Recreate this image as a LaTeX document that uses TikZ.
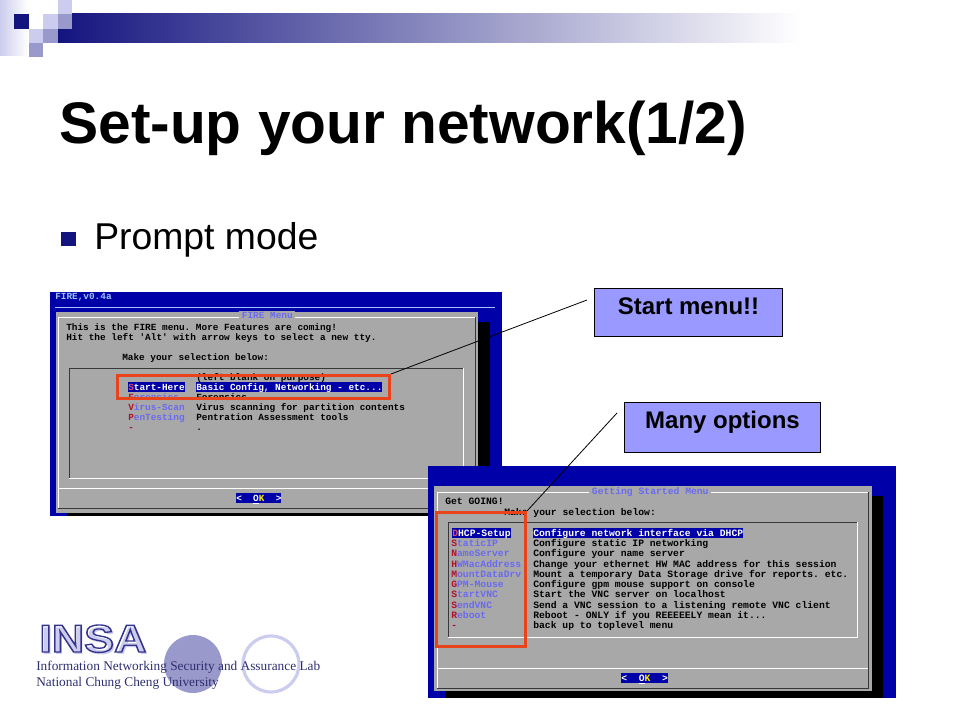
\documentclass[tikz,border=0pt]{standalone}
\usepackage{fontspec}
\setmainfont{Liberation Sans}
\setmonofont{Liberation Mono}
\newfontfamily\footfont{Liberation Serif}
\usetikzlibrary{positioning}

\definecolor{barnavy}{HTML}{14147F}
\definecolor{barmid}{HTML}{A8A8C0}
\definecolor{squaredark}{HTML}{9999CC}
\definecolor{squarelight}{HTML}{CCCCEE}
\definecolor{ttyblue}{HTML}{0000A8}
\definecolor{ttygray}{HTML}{A8A8A8}
\definecolor{ttydark}{HTML}{383838}
\definecolor{ttylabel}{HTML}{6A6AF0}
\definecolor{ttyhot}{HTML}{B01028}
\definecolor{ttysel}{HTML}{E04878}
\definecolor{ttytop}{HTML}{9CC4FF}
\definecolor{redbox}{HTML}{E8431A}
\definecolor{calloutfill}{HTML}{9999FF}
\definecolor{footnavy}{HTML}{2E2E70}

\newcommand{\hotkey}[2]{{\color{ttyhot}#1}#2}
\newcommand{\selkey}[2]{{\color{ttysel}#1}#2}
\newcommand{\outlined}[1]{\special{pdf:code 1 Tr 1 w 0.2 0.2 0.55 RG}#1\special{pdf:code 0 Tr 0.4 w 0 0 0 RG}}

\begin{document}
\begin{tikzpicture}[x=0.75pt,y=-0.75pt,
  ttyfirst/.style={anchor=west,inner sep=0pt,text height=6pt,text depth=1.5pt,
    font=\fontsize{7.05}{8}\selectfont\ttfamily\bfseries,text=black},
  ttysecond/.style={ttyfirst,font=\fontsize{7.29}{8}\selectfont\ttfamily\bfseries},
  menulabel/.style={text=ttylabel},
  menusel/.style={fill=ttyblue,text=white},
  ttytitle/.style={fill=ttygray,inner xsep=2pt,text=ttylabel},
  okbutton/.style={fill=ttyblue,text=white,inner xsep=0pt},
  redframe/.style={draw=redbox,line width=2.25pt,inner sep=0pt},
  callout/.style={draw=black,line width=0.75pt,fill=calloutfill,inner sep=0pt,
    font=\fontsize{18}{20}\selectfont\bfseries},
  leader/.style={draw=black,line width=0.6pt},
  footline/.style={anchor=west,inner sep=0pt,text=footnavy,font=\fontsize{10}{12}\selectfont\footfont}]
\useasboundingbox (0,0) rectangle (960,720);

% banner
\shade[left color=barnavy,middle color=barmid,right color=white] (58,14) rectangle (800,43);
\shade[left color=squarelight,right color=white] (0,0) rectangle (28,56);
\fill[white] (14,14) rectangle (72,29);
\fill[barnavy] (14,14) rectangle (29,29);
\fill[squarelight] (43,14) rectangle (58,29);
\fill[squarelight] (58,0) rectangle (72,14);
\fill[squaredark] (58,14) rectangle (72,29);
\fill[squarelight] (29,29) rectangle (43,43);
\fill[squaredark] (43,29) rectangle (58,43);
\fill[squaredark] (29,43) rectangle (43,57);

\node (title) [anchor=base west,inner sep=0pt,font=\fontsize{44}{50}\selectfont\bfseries] at (59,144) {Set-up your network(1/2)};
\fill[barnavy] (61,232) rectangle (76,246);
\node (prompt) [anchor=base west,inner sep=0pt,font=\fontsize{28}{32}\selectfont] at (94,250) {Prompt mode};

% footer
\fill[squaredark] (193,664) circle (29);
\draw[squarelight,line width=2.4pt] (271,664) circle (28);
\node (insashadow) [anchor=base west,inner sep=0pt,xscale=1.16,transform shape,text=squarelight,font=\fontsize{29}{32}\selectfont\bfseries] at (41,654) {INSA};
\node (insa) [anchor=base west,inner sep=0pt,xscale=1.16,transform shape,font=\fontsize{29}{32}\selectfont\bfseries] at (39,652) {\outlined{INSA}};
\node (lab) [footline] at (36,667) {Information Networking Security and Assurance Lab};
\node (univ) [footline] at (36,683) {National Chung Cheng University};

% first screen
\fill[ttyblue] (50,292) rectangle (502,516);
\draw[ttytop,line width=0.6pt] (55,307) -- (495,307);
\fill[black] (67,322) rectangle (490,516);
\fill[ttygray] (56,312) rectangle (478,513);
\draw[white,line width=0.75pt] (58,508) -- (58,317) -- (475,317);
\draw[ttydark,line width=0.75pt] (475,317) -- (475,508) -- (58,508);
\draw[white,line width=0.75pt] (58,488) -- (475,488);
\draw[ttydark,line width=0.75pt] (69,478) -- (69,368) -- (463,368);
\draw[white,line width=0.75pt] (463,368) -- (463,478) -- (69,478);
\node (firetop) [ttyfirst,text=ttytop] at (55,297) {FIRE,v0.4a};
\node (firetitle) [ttyfirst,ttytitle] at (239,316) {FIRE Menu};
\node (intro) [ttyfirst] at (66,327) {This is the FIRE menu. More Features are coming!};
\node (hint) [ttyfirst] at (66,337) {Hit the left 'Alt' with arrow keys to select a new tty.};
\node (choose) [ttyfirst] at (122,357) {Make your selection below:};
\node (blankdesc) [ttyfirst] at (196,377) {(left blank on purpose)};
\node (startlab) [ttyfirst,menusel] at (128,387) {\selkey{S}{tart-Here}};
\node (startdesc) [ttyfirst,menusel] at (196,387) {Basic Config, Networking - etc...};
\node (forenlab) [ttyfirst,menulabel] at (128,397) {\hotkey{F}{orensics}};
\node (forendesc) [ttyfirst] at (196,397) {Forensics};
\node (viruslab) [ttyfirst,menulabel] at (128,407) {\hotkey{V}{irus-Scan}};
\node (virusdesc) [ttyfirst] at (196,407) {Virus scanning for partition contents};
\node (penlab) [ttyfirst,menulabel] at (128,417) {\hotkey{P}{enTesting}};
\node (pendesc) [ttyfirst] at (196,417) {Pentration Assessment tools};
\node (dashlab) [ttyfirst,menulabel] at (128,427) {\hotkey{-}{}};
\node (dashdesc) [ttyfirst] at (196,427) {.};
\node (okfirst) [ttyfirst,okbutton] at (236,498) {<~~\underline{O}{\color{yellow}K}~~>};
\node (startframe) [redframe,minimum width=204pt,minimum height=17.25pt] at (253.5,387) {};

% callouts
\node (startmenu) [callout,minimum width=141pt,text height=19.7pt,text depth=17pt] at (688.5,312.5) {Start menu!!};
\node (manyopts) [callout,minimum width=147pt,text height=19.5pt,text depth=18pt] at (722.5,427) {Many options};
\coordinate (startend) at (587,300);
\coordinate (manyend) at (617,413);

% second screen
\fill[ttyblue] (428,466) rectangle (896,698);
\fill[black] (445,496) rectangle (883,698);
\fill[ttygray] (434,486) rectangle (872,691);
\draw[white,line width=0.75pt] (437,688) -- (437,492) -- (868,492);
\draw[ttydark,line width=0.75pt] (868,492) -- (868,688) -- (437,688);
\draw[white,line width=0.75pt] (437,668) -- (868,668);
\draw[ttydark,line width=0.75pt] (448,637) -- (448,522) -- (857,522);
\draw[white,line width=0.75pt] (857,522) -- (857,637) -- (448,637);
\node (gettitle) [ttysecond,ttytitle] at (589,491) {Getting Started Menu};
\node (going) [ttysecond] at (445,501) {Get GOING!};
\node (pick) [ttysecond] at (504,512) {Make your selection below:};
\node (dhcplab) [ttysecond,menusel] at (452,533) {\selkey{D}{HCP-Setup}};
\node (dhcpdesc) [ttysecond,menusel] at (533,533) {Configure network interface via DHCP};
\node (staticlab) [ttysecond,menulabel] at (451,543) {\hotkey{S}{taticIP}};
\node (staticdesc) [ttysecond] at (533,543) {Configure static IP networking};
\node (namelab) [ttysecond,menulabel] at (451,553) {\hotkey{N}{ameServer}};
\node (namedesc) [ttysecond] at (533,553) {Configure your name server};
\node (maclab) [ttysecond,menulabel] at (451,564) {\hotkey{H}{WMacAddress}};
\node (macdesc) [ttysecond] at (533,564) {Change your ethernet HW MAC address for this session};
\node (mountlab) [ttysecond,menulabel] at (451,574) {\hotkey{M}{ountDataDrv}};
\node (mountdesc) [ttysecond] at (533,574) {Mount a temporary Data Storage drive for reports. etc.};
\node (gpmlab) [ttysecond,menulabel] at (451,584) {\hotkey{G}{PM-Mouse}};
\node (gpmdesc) [ttysecond] at (533,584) {Configure gpm mouse support on console};
\node (vnclab) [ttysecond,menulabel] at (451,594) {\hotkey{S}{tartVNC}};
\node (vncdesc) [ttysecond] at (533,594) {Start the VNC server on localhost};
\node (sendlab) [ttysecond,menulabel] at (451,605) {\hotkey{S}{endVNC}};
\node (senddesc) [ttysecond] at (533,605) {Send a VNC session to a listening remote VNC client};
\node (rebootlab) [ttysecond,menulabel] at (451,615) {\hotkey{R}{eboot}};
\node (rebootdesc) [ttysecond] at (533,615) {Reboot - ONLY if you REEEEELY mean it...};
\node (backlab) [ttysecond,menulabel] at (451,625) {\hotkey{-}{}};
\node (backdesc) [ttysecond] at (533,625) {back up to toplevel menu};
\node (oksecond) [ttysecond,okbutton] at (621,678) {<~~\underline{O}{\color{yellow}K}~~>};
\node (optframe) [redframe,minimum width=66.75pt,minimum height=100.5pt] at (481,579.5) {};

\path[leader] (startframe.north east) -- (startend);
\path[leader] (optframe.north east) -- (manyend);
\end{tikzpicture}
\end{document}
